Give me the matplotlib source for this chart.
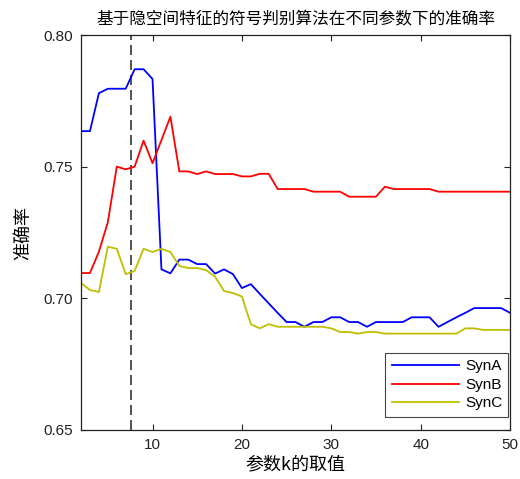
import matplotlib
matplotlib.use("Agg")
import matplotlib.pyplot as plt
import numpy as np

plt.rcParams['font.family'] = ['Liberation Sans', 'Noto Sans CJK SC', 'DejaVu Sans']

k = list(range(2, 51))
synA = [0.7635, 0.7635, 0.7779, 0.7796, 0.7796, 0.7796, 0.7870, 0.7870, 0.7833,
        0.7110, 0.7095, 0.7147, 0.7147, 0.7130, 0.7130, 0.7094, 0.7110, 0.7092, 0.7039,
        0.7054, 0.7017, 0.6981, 0.6945, 0.6910, 0.6910, 0.6892, 0.6910, 0.6910, 0.6928,
        0.6928, 0.6910, 0.6910, 0.6892, 0.6910, 0.6910, 0.6910, 0.6910, 0.6928, 0.6928,
        0.6928, 0.6892, 0.6910, 0.6928, 0.6945, 0.6963, 0.6963, 0.6963, 0.6963, 0.6945]
synB = [0.7096, 0.7096, 0.7177, 0.7289, 0.7500, 0.7490, 0.7500, 0.7599, 0.7513,
        0.7601, 0.7690, 0.7482, 0.7482, 0.7472, 0.7482, 0.7472, 0.7472, 0.7472, 0.7463,
        0.7463, 0.7473, 0.7473, 0.7415, 0.7415, 0.7415, 0.7415, 0.7405, 0.7405, 0.7405,
        0.7405, 0.7386, 0.7386, 0.7386, 0.7386, 0.7424, 0.7415, 0.7415, 0.7415, 0.7415,
        0.7415, 0.7405, 0.7405, 0.7405, 0.7405, 0.7405, 0.7405, 0.7405, 0.7405, 0.7405]
synC = [0.7058, 0.7032, 0.7024, 0.7196, 0.7188, 0.7092, 0.7104, 0.7188, 0.7176,
        0.7188, 0.7176, 0.7123, 0.7115, 0.7115, 0.7107, 0.7082, 0.7028, 0.7020, 0.7007,
        0.6902, 0.6886, 0.6902, 0.6892, 0.6892, 0.6892, 0.6892, 0.6892, 0.6892, 0.6886,
        0.6872, 0.6872, 0.6866, 0.6872, 0.6872, 0.6866, 0.6866, 0.6866, 0.6866, 0.6866,
        0.6866, 0.6866, 0.6866, 0.6866, 0.6886, 0.6886, 0.6880, 0.6880, 0.6880, 0.6880]
best_k = 7.6
series_names = ['SynA', 'SynB', 'SynC']
xticks = [10, 20, 30, 40, 50]
yticks = [0.65, 0.70, 0.75, 0.80]

fig = plt.figure(figsize=(5.2, 4.79), dpi=100)
ax = fig.add_axes([0.1558, 0.1023, 0.825, 0.8246])

ax.axvline(best_k, color='#333333', lw=1.2, linestyle=(0, (6, 3)))
ax.plot(k, synA, color='#0000FF', lw=1.3, label=series_names[0])
ax.plot(k, synB, color='#FF0000', lw=1.3, label=series_names[1])
ax.plot(k, synC, color='#BFBF00', lw=1.3, label=series_names[2])

ax.set_xlim(2, 50)
ax.set_ylim(0.65, 0.80)
ax.set_xticks(xticks)
ax.set_yticks(yticks)
ax.set_yticklabels([f"{v:.2f}" for v in yticks])
ax.tick_params(direction='in', top=True, right=True, length=4, width=0.8,
               labelsize=11, colors='#222222', pad=6)
for s in ax.spines.values():
    s.set_linewidth(0.9)
    s.set_color('#222222')

ax.set_title('基于隐空间特征的符号判别算法在不同参数下的准确率', fontsize=12,
             family=['Noto Sans CJK SC'], pad=8)
ax.set_xlabel('参数k的取值', fontsize=13, family=['Noto Sans CJK SC'], labelpad=2)
ax.set_ylabel('准确率', fontsize=13, family=['Noto Sans CJK SC'], labelpad=8)

leg = ax.legend(loc='lower right', bbox_to_anchor=(0.996, 0.034), fontsize=11,
                frameon=True, fancybox=False, edgecolor='#444444', framealpha=1,
                handlelength=4.4, borderaxespad=0.0, labelspacing=0.3,
                handletextpad=0.4, borderpad=0.4)
leg.get_frame().set_linewidth(0.8)

fig.savefig('out.png', dpi=100)
